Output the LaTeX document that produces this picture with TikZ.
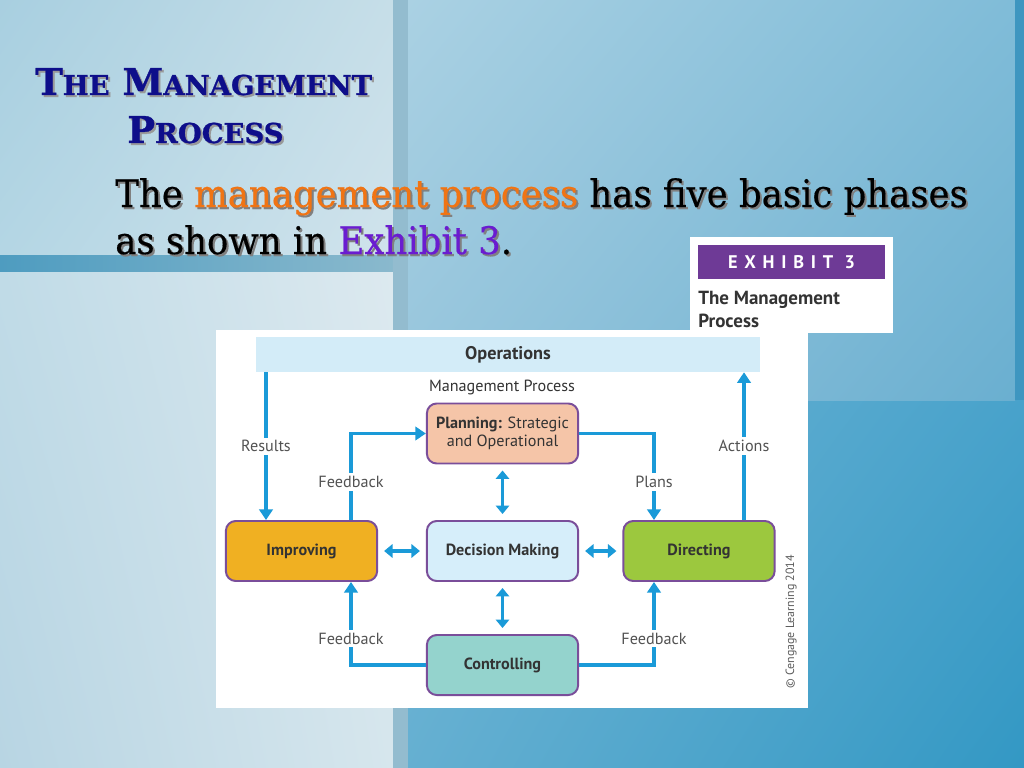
\documentclass[tikz,border=0pt]{standalone}
\usepackage{fontspec}
\usepackage{tikz}
\usetikzlibrary{arrows.meta}
\usetikzlibrary{shadings}
\setsansfont{PT Sans}
\newfontfamily\slab[FakeBold=1]{DejaVu Serif}
\newfontfamily\slabtext[FakeStretch=0.935,FakeBold=0.4]{DejaVu Serif}
\newcommand{\tsc}[1]{{\fontsize{19.5}{20}\selectfont #1}}

\definecolor{titleblue}{HTML}{0E0E8A}
\definecolor{orangetxt}{HTML}{F07414}
\definecolor{purpletxt}{HTML}{6A1CD0}
\definecolor{exhibit}{HTML}{6E3A96}
\definecolor{flowblue}{HTML}{1A9AD8}
\definecolor{rim}{HTML}{7A4E9A}
\definecolor{opsblue}{HTML}{D3ECF8}
\definecolor{planfill}{HTML}{F5C5A8}
\definecolor{improvefill}{HTML}{F0B022}
\definecolor{decidefill}{HTML}{D6EEFA}
\definecolor{directfill}{HTML}{9CC83E}
\definecolor{controlfill}{HTML}{94D3CD}
\definecolor{ink}{HTML}{333333}
% background tones
\definecolor{bgA}{HTML}{9CCBE0}
\definecolor{bgB}{HTML}{5FADD2}
\definecolor{bgC}{HTML}{86BFDA}
\definecolor{bgD}{HTML}{3398C4}
\definecolor{panA}{HTML}{AAD1E3}
\definecolor{panB}{HTML}{80BCD8}
\definecolor{panC}{HTML}{96C5DC}
\definecolor{panD}{HTML}{6AAFD0}
\definecolor{edge}{HTML}{3E96C0}
\definecolor{leftA}{HTML}{A8CFE0}
\definecolor{leftB}{HTML}{C6DEE8}
\definecolor{leftC}{HTML}{B4D6E4}
\definecolor{leftD}{HTML}{D0E3EC}
\definecolor{bandA}{HTML}{4E9CC0}
\definecolor{bandB}{HTML}{8AB9CD}
\definecolor{lowA}{HTML}{C0DBE7}
\definecolor{lowB}{HTML}{DCE9EF}
\definecolor{lowC}{HTML}{B8D5E3}
\definecolor{lowD}{HTML}{D6E6ED}
\definecolor{strip}{HTML}{93BCCF}

\begin{document}
\begin{tikzpicture}[x=0.025cm,y=-0.025cm,
	phase/.style={draw=rim,line width=1.4pt,rounded corners=7pt,minimum width=3.78cm,minimum height=1.5cm,align=center,font=\sffamily\fontsize{11.5}{13}\selectfont,text=ink},
	flow/.style={draw=flowblue,line width=2.6pt,-{Triangle[width=9.5pt,length=7.5pt]}},
	twoway/.style={draw=flowblue,line width=2.6pt,{Triangle[width=9.5pt,length=6pt]}-{Triangle[width=9.5pt,length=6pt]},shorten <=0.15cm,shorten >=0.15cm},
	lbl/.style={fill=white,inner sep=2pt,font=\sffamily\fontsize{11.5}{13}\selectfont,text=ink!85}]
	\useasboundingbox (0,0) rectangle (1024,768);

	% background panels
	\shade[upper left=bgA,upper right=bgB,lower left=bgC,lower right=bgD] (0,0) rectangle (1024,768);
	\shade[upper left=panA,upper right=panB,lower left=panC,lower right=panD] (408,0) rectangle (1015,400);
	\fill[edge] (1015,0) rectangle (1024,400);
	\shade[upper left=leftA,upper right=leftB,lower left=leftC,lower right=leftD] (0,0) rectangle (393,255);
	\shade[left color=bandA,right color=bandB] (0,255) rectangle (395,272);
	\shade[upper left=lowA,upper right=lowB,lower left=lowC,lower right=lowD] (0,272) rectangle (393,768);
	\fill[strip] (393,0) rectangle (408,768);

	% title and sentence
	\node[anchor=base west,inner sep=0,text=black!40] at (37,97) {\slab\bfseries\fontsize{26.3}{28}\selectfont T\tsc{HE} M\tsc{ANAGEMENT}};
	\node[anchor=base west,inner sep=0,text=titleblue] (title) at (35,95) {\slab\bfseries\fontsize{26.3}{28}\selectfont T\tsc{HE} M\tsc{ANAGEMENT}};
	\node[anchor=base west,inner sep=0,text=black!40] at (129,145) {\slab\bfseries\fontsize{26.3}{28}\selectfont P\tsc{ROCESS}};
	\node[anchor=base west,inner sep=0,text=titleblue] (title2) at (127,143) {\slab\bfseries\fontsize{26.3}{28}\selectfont P\tsc{ROCESS}};
	\node[anchor=base west,inner sep=0,text=black!50] at (117,209) {\slabtext\fontsize{27}{30}\selectfont The management process has five basic phases};
	\node[anchor=base west,inner sep=0] (line1) at (115,207) {\slabtext\fontsize{27}{30}\selectfont The \textcolor{orangetxt}{management process} has five basic phases};
	\node[anchor=base west,inner sep=0,text=black!50] at (117,256) {\slabtext\fontsize{27}{30}\selectfont as shown in Exhibit 3.};
	\node[anchor=base west,inner sep=0] (line2) at (115,254) {\slabtext\fontsize{27}{30}\selectfont as shown in \textcolor{purpletxt}{Exhibit 3}.};

	% exhibit card
	\fill[white] (690,237) rectangle (893,333);
	\node[fill=exhibit,text=white,minimum width=4.68cm,minimum height=0.85cm,font=\sffamily\bfseries\fontsize{13}{14}\selectfont] (tag) at (791.5,262) {\addfontfeature{LetterSpace=37}EXHIBIT 3};
	\node[anchor=north west,inner sep=0,align=left,text=ink,font=\sffamily\bfseries\fontsize{13.5}{16.5}\selectfont] (tagtext) at (698,291) {The Management\\Process};

	% exhibit diagram
	\fill[white] (216,330) rectangle (808,708);
	\node[fill=opsblue,minimum width=12.6cm,minimum height=0.875cm,font=\sffamily\bfseries\fontsize{13}{14}\selectfont,text=ink] (ops) at (508,354.5) {Operations};
	\node[font=\sffamily\fontsize{11.5}{13}\selectfont,text=ink] (mgmt) at (502,387) {Management Process};

	\node[phase,fill=planfill] (plan) at (502.5,433.5) {\textbf{Planning:} Strategic\\and Operational};
	\node[phase,fill=improvefill] (improve) at (301.5,551) {\textbf{Improving}};
	\node[phase,fill=decidefill] (decide) at (502.5,551) {\textbf{Decision Making}};
	\node[phase,fill=directfill] (direct) at (699,551) {\textbf{Directing}};
	\node[phase,fill=controlfill] (control) at (502.5,665) {\textbf{Controlling}};

	\coordinate (colA) at (266,0);
	\coordinate (colB) at (351,0);
	\coordinate (colC) at (654,0);
	\coordinate (colD) at (744,0);

	\draw[flow] (ops.south -| colA) -- node[lbl]{Results} (improve.north -| colA);
	\draw[flow] (improve.north -| colB) |- node[lbl,pos=0.22]{Feedback} (plan.west);
	\draw[flow] (plan.east) -| node[lbl,pos=0.78]{Plans} (direct.north -| colC);
	\draw[flow] (direct.north -| colD) -- node[lbl]{Actions} (ops.south -| colD);
	\draw[flow] (control.west) -| node[lbl,pos=0.66]{Feedback} (improve.south -| colB);
	\draw[flow] (control.east) -| node[lbl,pos=0.66]{Feedback} (direct.south -| colC);

	\draw[twoway] (plan.south) -- (decide.north);
	\draw[twoway] (decide.south) -- (control.north);
	\draw[twoway] (improve.east) -- (decide.west);
	\draw[twoway] (decide.east) -- (direct.west);

	\node[rotate=90,font=\sffamily\fontsize{8.5}{9}\selectfont,text=ink!80] (credit) at (791,622) {\textcopyright{} Cengage Learning 2014};
\end{tikzpicture}
\end{document}
